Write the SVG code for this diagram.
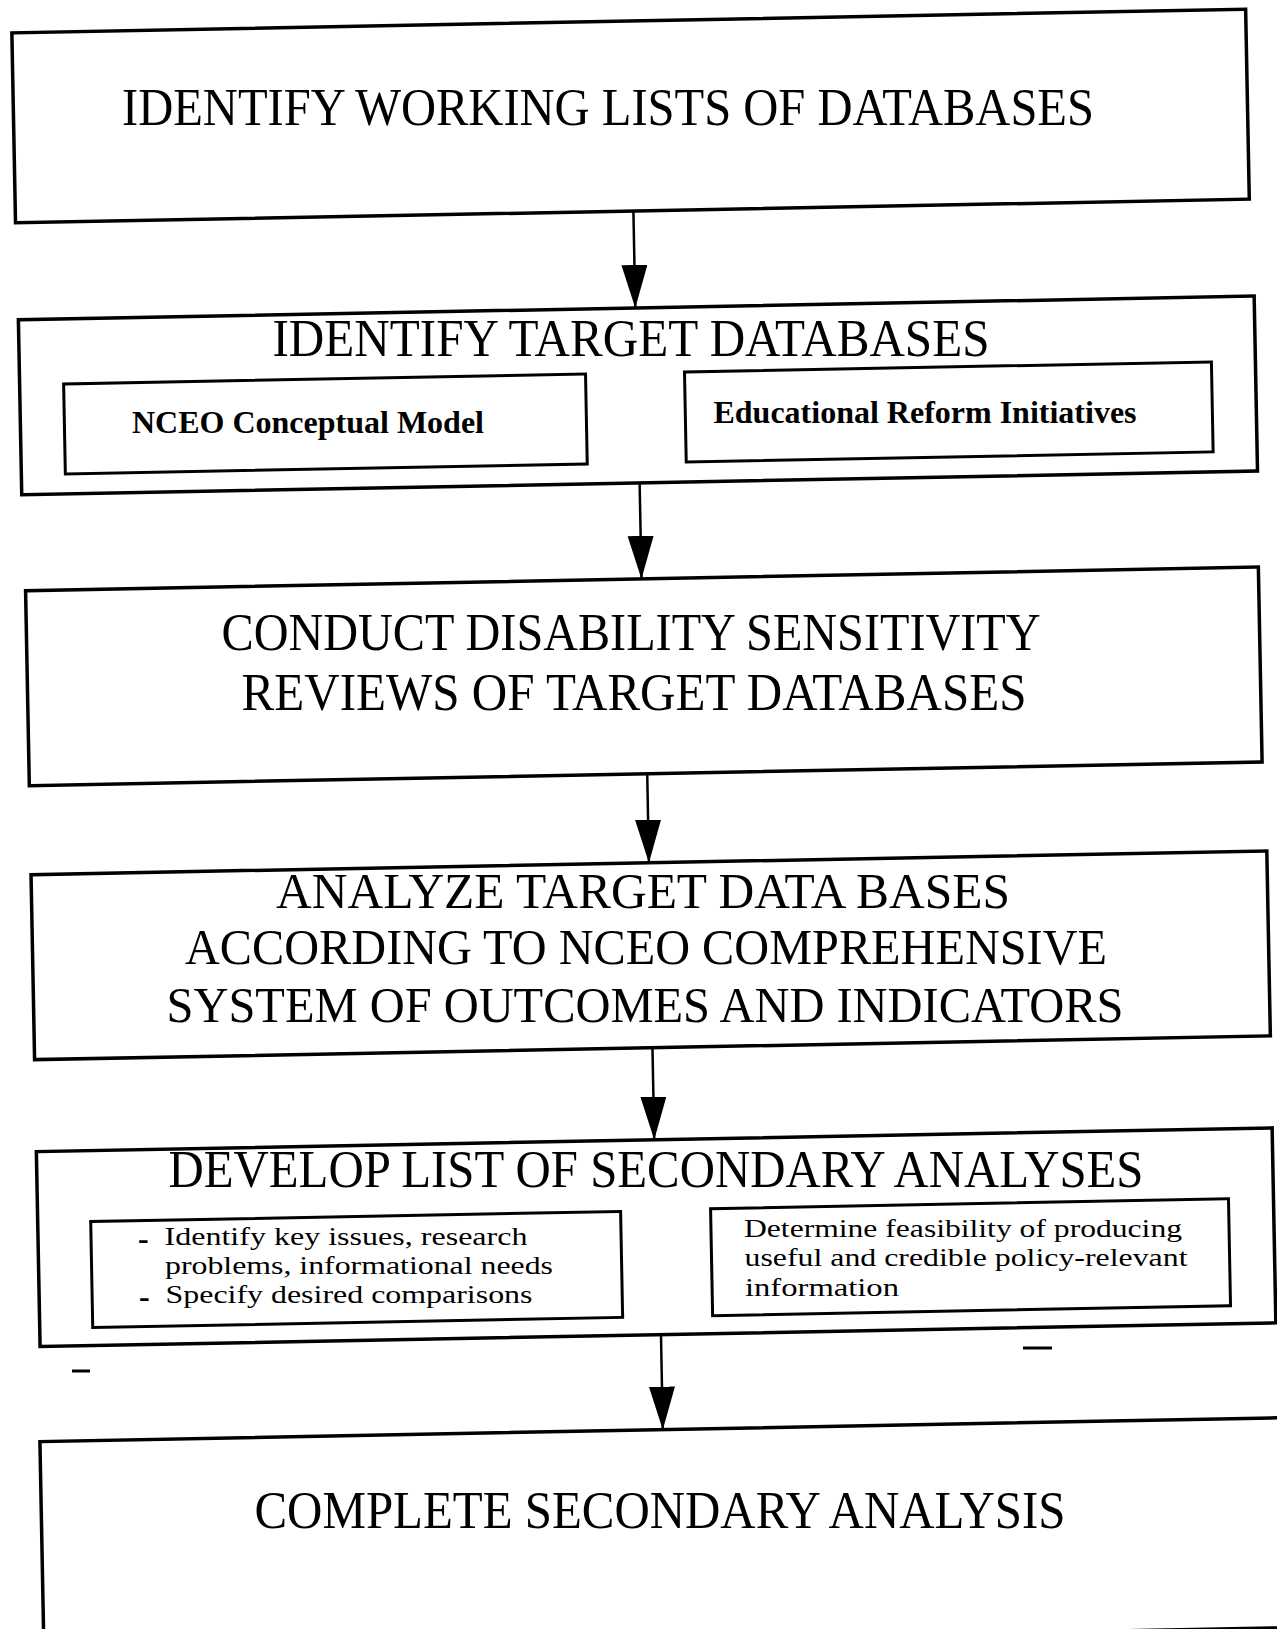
<svg xmlns="http://www.w3.org/2000/svg" width="1277" height="1629" viewBox="0 0 1277 1629">
<defs>
<style>
.box{fill:none;stroke:#000;stroke-width:3.5}
.inner{fill:none;stroke:#000;stroke-width:3}
.big{font-family:"Liberation Serif","Times New Roman",serif;font-size:52px;fill:#000;text-anchor:middle}
.big50{font-family:"Liberation Serif","Times New Roman",serif;font-size:50px;fill:#000;text-anchor:middle}
.bold{font-family:"Liberation Serif","Times New Roman",serif;font-size:32px;font-weight:bold;fill:#000;text-anchor:middle}
.small{font-family:"Liberation Serif","Times New Roman",serif;font-size:26px;fill:#000;text-anchor:middle}
.dash{font-family:"Liberation Serif","Times New Roman",serif;font-size:32px;font-weight:bold;fill:#000}
.conn{stroke:#000;stroke-width:2.5;fill:none}
.mark{stroke:#000;stroke-width:3}
</style>
<marker id="arrow" markerUnits="userSpaceOnUse" markerWidth="44" markerHeight="28" refX="43" refY="13" orient="auto">
<path d="M0,0 L43,13 L0,26 Z" fill="#000"/>
</marker>
</defs>
<rect x="0" y="0" width="1277" height="1629" fill="#fff"/>
<g id="connectors" transform="rotate(-1.1 638 815)">
<line class="conn" x1="645" y1="211" x2="645" y2="308" marker-end="url(#arrow)"/>
<line class="conn" x1="646" y1="483" x2="646" y2="579" marker-end="url(#arrow)"/>
<line class="conn" x1="648" y1="774" x2="648" y2="863" marker-end="url(#arrow)"/>
<line class="conn" x1="648" y1="1048" x2="648" y2="1140" marker-end="url(#arrow)"/>
<line class="conn" x1="651" y1="1335" x2="651" y2="1430" marker-end="url(#arrow)"/>
</g>
<g id="node1">
<rect class="box" x="27" y="21" width="1234" height="190" transform="rotate(-1.1 638 815)"/>
<text class="big" x="608" y="125" textLength="972" lengthAdjust="spacingAndGlyphs">IDENTIFY WORKING LISTS OF DATABASES</text>
</g>
<g id="node2">
<rect class="box" x="28" y="308" width="1236" height="175" transform="rotate(-1.1 638 815)"/>
<text class="big" x="631" y="356" textLength="717" lengthAdjust="spacingAndGlyphs">IDENTIFY TARGET DATABASES</text>
<g id="node2a">
<rect class="inner" x="72" y="373" width="522" height="90" transform="rotate(-1.1 638 815)"/>
<text class="bold" x="308" y="433">NCEO Conceptual Model</text>
</g>
<g id="node2b">
<rect class="inner" x="693" y="373" width="527" height="90" transform="rotate(-1.1 638 815)"/>
<text class="bold" x="925" y="423">Educational Reform Initiatives</text>
</g>
</g>
<g id="node3">
<rect class="box" x="30" y="579" width="1233" height="195" transform="rotate(-1.1 638 815)"/>
<text class="big" x="631" y="650" textLength="819" lengthAdjust="spacingAndGlyphs">CONDUCT DISABILITY SENSITIVITY</text>
<text class="big" x="634" y="710" textLength="785" lengthAdjust="spacingAndGlyphs">REVIEWS OF TARGET DATABASES</text>
</g>
<g id="node4">
<rect class="box" x="30" y="863" width="1236" height="185" transform="rotate(-1.1 638 815)"/>
<text class="big50" x="643" y="908" textLength="734" lengthAdjust="spacingAndGlyphs">ANALYZE TARGET DATA BASES</text>
<text class="big50" x="646" y="964" textLength="922" lengthAdjust="spacingAndGlyphs">ACCORDING TO NCEO COMPREHENSIVE</text>
<text class="big50" x="645" y="1022" textLength="957" lengthAdjust="spacingAndGlyphs">SYSTEM OF OUTCOMES AND INDICATORS</text>
</g>
<g id="node5">
<rect class="box" x="30" y="1140" width="1236" height="195" transform="rotate(-1.1 638 815)"/>
<text class="big" x="656" y="1187" textLength="975" lengthAdjust="spacingAndGlyphs">DEVELOP LIST OF SECONDARY ANALYSES</text>
<g id="node5a">
<rect class="inner" x="83" y="1211" width="530" height="106" transform="rotate(-1.1 638 815)"/>
<text class="dash" x="138" y="1249">-</text>
<text class="small" x="346" y="1245" textLength="363" lengthAdjust="spacingAndGlyphs">Identify key issues, research</text>
<text class="small" x="359" y="1274" textLength="388" lengthAdjust="spacingAndGlyphs">problems, informational needs</text>
<text class="dash" x="139" y="1307">-</text>
<text class="small" x="349" y="1303" textLength="367" lengthAdjust="spacingAndGlyphs">Specify desired comparisons</text>
</g>
<g id="node5b">
<rect class="inner" x="703" y="1210" width="518" height="107" transform="rotate(-1.1 638 815)"/>
<text class="small" x="963" y="1237" textLength="438" lengthAdjust="spacingAndGlyphs">Determine feasibility of producing</text>
<text class="small" x="966" y="1266" textLength="443" lengthAdjust="spacingAndGlyphs">useful and credible policy-relevant</text>
<text class="small" x="822" y="1296" textLength="154" lengthAdjust="spacingAndGlyphs">information</text>
</g>
</g>
<g id="node6">
<rect class="box" x="28" y="1430" width="1240" height="210" transform="rotate(-1.1 638 815)"/>
<text class="big" x="660" y="1528" textLength="811" lengthAdjust="spacingAndGlyphs">COMPLETE SECONDARY ANALYSIS</text>
</g>
<line class="mark" x1="1023" y1="1348" x2="1052" y2="1348"/>
<line class="mark" x1="72" y1="1371" x2="90" y2="1371"/>
</svg>
